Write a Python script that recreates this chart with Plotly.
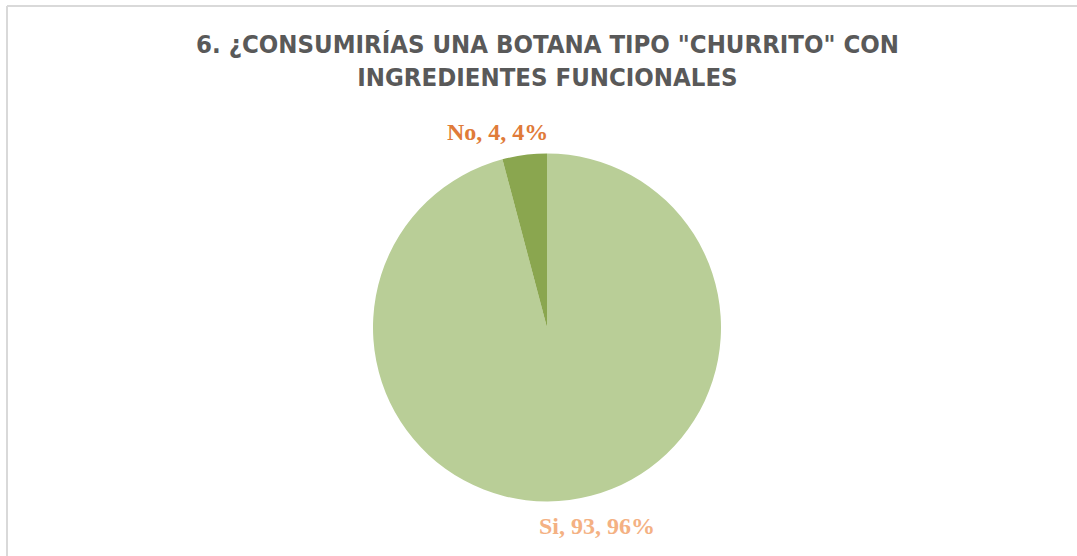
import plotly.graph_objects as go

labels = ["Si", "No"]
values = [93, 4]
percents = ["96%", "4%"]
slice_colors = ["#B9CE97", "#8AA64F"]
label_colors = ["#F4B183", "#E07B39"]
title_text = '6. ¿CONSUMIRÍAS UNA BOTANA TIPO "CHURRITO" CON<br>INGREDIENTES FUNCIONALES'

W, H = 1077, 556

fig = go.Figure()
fig.add_trace(go.Pie(
    labels=labels,
    values=values,
    sort=False,
    direction="clockwise",
    rotation=0,
    marker=dict(colors=slice_colors, line=dict(width=0)),
    textinfo="none",
    hoverinfo="label+value+percent",
    showlegend=False,
    domain=dict(x=[373 / W, 721 / W], y=[1 - 502 / H, 1 - 153 / H]),
))

# data labels
label_pos = {"No": (497 / W, 1 - 132 / H), "Si": (597 / W, 1 - 526 / H)}
for lab, val, pct, col in zip(labels, values, percents, label_colors):
    x, y = label_pos[lab]
    fig.add_annotation(
        x=x, y=y, xref="paper", yref="paper",
        text=f"<b>{lab}, {val}, {pct}</b>",
        showarrow=False,
        font=dict(family="Liberation Serif, DejaVu Serif, serif", size=24, color=col),
        xanchor="center", yanchor="middle",
    )

# title
fig.add_annotation(
    x=547 / W, y=1 - 60 / H, xref="paper", yref="paper",
    text=f"<b>{title_text}</b>",
    showarrow=False,
    font=dict(family="DejaVu Sans Condensed, sans-serif", size=25.5, color="#595959"),
    xanchor="center", yanchor="middle", align="center",
)

# chart border (left and top)
fig.add_shape(type="line", xref="paper", yref="paper",
              x0=7 / W, y0=1 - 6 / H, x1=1, y1=1 - 6 / H,
              line=dict(color="#D9D9D9", width=2))
fig.add_shape(type="line", xref="paper", yref="paper",
              x0=7 / W, y0=0, x1=7 / W, y1=1 - 6 / H,
              line=dict(color="#D9D9D9", width=2))

fig.update_layout(
    width=W, height=H,
    margin=dict(l=0, r=0, t=0, b=0),
    paper_bgcolor="white",
    plot_bgcolor="white",
)

fig.write_html("out.html", config={"displayModeBar": False},
               post_script="document.body.style.margin='0';document.body.style.overflow='hidden';")
